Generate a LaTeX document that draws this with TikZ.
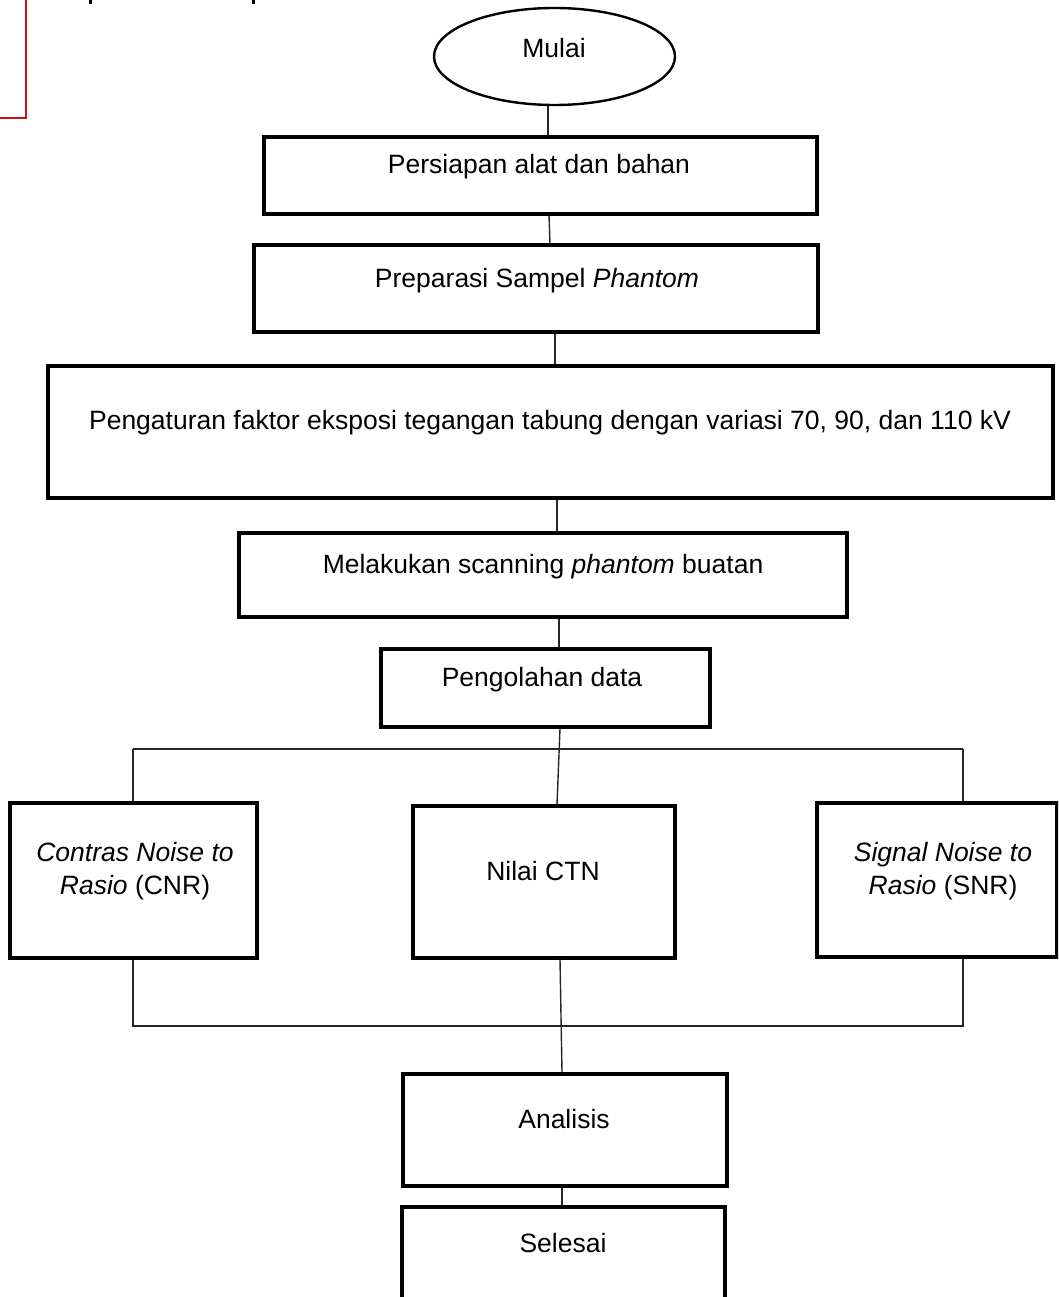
\documentclass[tikz,border=0pt]{standalone}
\usepackage{fontspec}
\setmainfont{Liberation Sans}
\usetikzlibrary{shapes.geometric}
\definecolor{redline}{RGB}{200,16,30}
\begin{document}
\begin{tikzpicture}[x=1pt,y=-1pt,
  box/.style={draw=black, line width=3.2pt, rectangle, inner sep=0},
  lbl/.style={inner sep=0, anchor=base, font=\fontsize{26.5}{33}\selectfont},
  lbltwo/.style={inner sep=0, anchor=center, align=center, font=\fontsize{26.5}{33}\selectfont},
  conn/.style={draw=black!85, line width=1.4pt}]
\useasboundingbox (0,0) rectangle (1058,1297);
\clip (0,0) rectangle (1058,1297);

% fragments at top-left
\draw[redline, line width=2.4pt] (26,-2) -- (26,118) -- (-2,118);
\fill (88.5,-1) rectangle (91.5,4);
\fill (251.5,-1) rectangle (254.5,4);

% shapes
\node[draw=black, ellipse, line width=2.4pt, minimum width=241, minimum height=97, inner sep=0] (start) at (554.5,56.5) {};
\node[box, minimum width=553, minimum height=77] (b1) at (540.5,175.5) {};
\node[box, minimum width=564, minimum height=87] (b2) at (536,288.5) {};
\node[box, minimum width=1005, minimum height=132] (b3) at (550.5,432) {};
\node[box, minimum width=608, minimum height=84] (b4) at (543,575) {};
\node[box, minimum width=329, minimum height=78] (b5) at (545.5,688) {};
\node[box, minimum width=247, minimum height=155] (cnr) at (133.5,880.5) {};
\node[box, minimum width=262, minimum height=152] (ctn) at (544,882) {};
\node[box, minimum width=240, minimum height=154] (snr) at (937,880) {};
\node[box, minimum width=324, minimum height=112] (ana) at (565,1130) {};
\node[box, minimum width=323, minimum height=113] (sel) at (563.5,1263.5) {};

% texts
\node[lbl] (t0) at (554,58) {Mulai};
\node[lbl] (t1) at (539,174) {Persiapan alat dan bahan};
\node[lbl] (t2) at (537,287) {Preparasi Sampel \textit{Phantom}};
\node[lbl] (t3) at (550,429) {Pengaturan faktor eksposi tegangan tabung dengan variasi 70, 90, dan 110 kV};
\node[lbl] (t4) at (543,573) {Melakukan scanning \textit{phantom} buatan};
\node[lbl] (t5) at (542,686) {Pengolahan data};
\node[lbltwo] (t6) at (135,871) {\textit{Contras Noise to}\\\textit{Rasio} (CNR)};
\node[lbl] (t7) at (543,880) {Nilai CTN};
\node[lbltwo] (t8) at (943,871) {\textit{Signal Noise to}\\\textit{Rasio} (SNR)};
\node[lbl] (t9) at (564,1128) {Analisis};
\node[lbl] (t10) at (563,1252) {Selesai};

% bus coordinates
\coordinate (bTL) at (133,749);
\coordinate (bTR) at (963,749);
\coordinate (bBL) at (133,1026);
\coordinate (bBR) at (963,1026);

% connectors
\draw[conn] ([xshift=-6.5pt]start.south) -- ([xshift=7.5pt]b1.north);
\draw[conn] ([xshift=8.5pt]b1.south) -- ([xshift=14pt]b2.north);
\draw[conn] ([xshift=19pt]b2.south) -- ([xshift=4.5pt]b3.north);
\draw[conn] ([xshift=6.5pt]b3.south) -- ([xshift=14pt]b4.north);
\draw[conn] ([xshift=16pt]b4.south) -- ([xshift=13.5pt]b5.north);
\draw[conn] ([xshift=14.5pt]b5.south) -- ([xshift=13pt]ctn.north);
\draw[conn] (bTL) -- (bTR);
\draw[conn] (bTL) -- ([xshift=-0.5pt]cnr.north);
\draw[conn] (bTR) -- ([xshift=26pt]snr.north);
\draw[conn] ([xshift=-0.5pt]cnr.south) -- (bBL) -- (bBR) -- ([xshift=26pt]snr.south);
\draw[conn] ([xshift=16pt]ctn.south) -- ([xshift=-3pt]ana.north);
\draw[conn] ([xshift=-3pt]ana.south) -- ([xshift=-1.5pt]sel.north);
\end{tikzpicture}
\end{document}
